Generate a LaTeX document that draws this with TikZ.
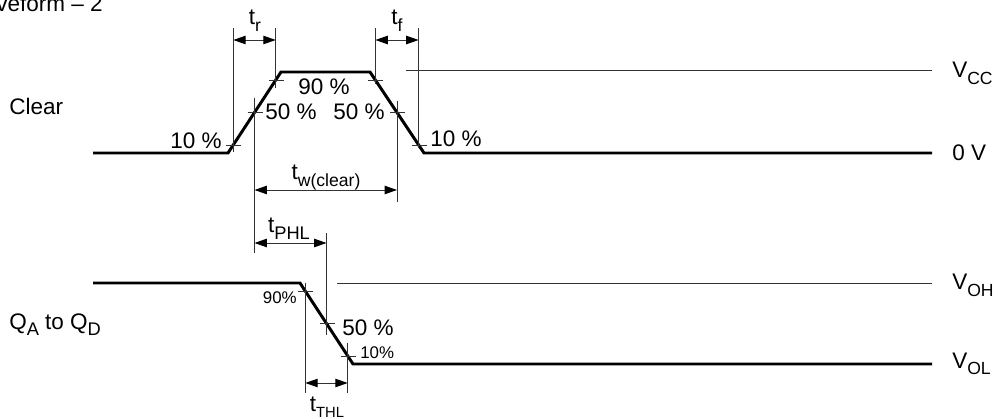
\documentclass[tikz,border=0pt]{standalone}
\usepackage{fontspec}
\setmainfont{Liberation Sans}
\usetikzlibrary{arrows.meta}
\newcommand\mysub[2][11]{\raisebox{-0.28em}{\fontsize{#1}{#1}\selectfont #2}}
\begin{document}
\begin{tikzpicture}[x=0.025cm,y=-0.025cm,
  wave/.style={line width=2.1pt, line join=miter},
  fine/.style={line width=0.7pt, black!80},
  dim/.style={line width=0.7pt, black!80,
    {Triangle[length=8.8pt,width=6pt,fill=black,color=black]}-{Triangle[length=8.8pt,width=6pt,fill=black,color=black]}},
  big/.style={inner sep=0pt, font=\fontsize{16}{18}\selectfont},
  mid/.style={inner sep=0pt, font=\fontsize{16}{18}\selectfont},
  small/.style={inner sep=0pt, font=\fontsize{12}{14}\selectfont}]
\useasboundingbox (0,0) rectangle (1000,419);
% ---------- coordinates: Clear waveform
\coordinate (c0) at (93,153);
\coordinate (c1) at (228,153);
\coordinate (c2) at (281,72);
\coordinate (c3) at (370,72);
\coordinate (c4) at (424,153);
\coordinate (c5) at (932,153);
\coordinate (r10) at (233.3,145);
\coordinate (r50) at (254.5,112.5);
\coordinate (r90) at (275.7,80);
\coordinate (f90) at (375.4,80);
\coordinate (f50) at (397,112.5);
\coordinate (f10) at (418.6,145);
% ---------- coordinates: output waveform
\coordinate (q0) at (93,283);
\coordinate (q1) at (300,283);
\coordinate (q2) at (353,364);
\coordinate (q3) at (932,364);
\coordinate (o90) at (305.3,291);
\coordinate (o50) at (326.5,323.5);
\coordinate (o10) at (347.7,356);
% ---------- reference levels
\coordinate (vcc0) at (406,70);
\coordinate (vcc1) at (932,70);
\coordinate (voh0) at (337,283);
\coordinate (voh1) at (932,283);
% ---------- waveforms
\draw[wave] (c0) -- (c1) -- (c2) -- (c3) -- (c4) -- (c5);
\draw[wave] (q0) -- (q1) -- (q2) -- (q3);
\draw[fine] (vcc0) -- (vcc1);
\draw[fine] (voh0) -- (voh1);
% ---------- tick marks
\foreach \p in {r10,r50,r90,f90,f50,f10,o90,o50,o10}
  \draw[fine] ([xshift=-7*0.025cm]\p) -- ([xshift=8*0.025cm]\p);
% ---------- extension lines (upper)
\coordinate (e1a) at (233.3,28);  \coordinate (e1b) at (233.3,152);
\coordinate (e2a) at (275.7,28);  \coordinate (e2b) at (275.7,88);
\coordinate (e3a) at (254.5,98);  \coordinate (e3b) at (254.5,253);
\coordinate (e4a) at (375.4,28);  \coordinate (e4b) at (375.4,84);
\coordinate (e5a) at (397,101);   \coordinate (e5b) at (397,202);
\coordinate (e6a) at (418.6,28);  \coordinate (e6b) at (418.6,148);
% ---------- extension lines (lower)
\coordinate (e7a) at (305.3,283); \coordinate (e7b) at (305.3,393);
\coordinate (e8a) at (326.5,233); \coordinate (e8b) at (326.5,335);
\coordinate (e9a) at (347.7,343); \coordinate (e9b) at (347.7,393);
\foreach \i in {1,...,9} \draw[fine] (e\i a) -- (e\i b);
% ---------- dimension arrows
\coordinate (tr0) at (233.3,40);  \coordinate (tr1) at (275.7,40);
\coordinate (tf0) at (375.4,40);  \coordinate (tf1) at (418.6,40);
\coordinate (tw0) at (254.5,190); \coordinate (tw1) at (397,190);
\coordinate (tp0) at (254.5,243); \coordinate (tp1) at (326.5,243);
\coordinate (tt0) at (305.3,383); \coordinate (tt1) at (347.7,383);
\draw[dim] (tr0) -- (tr1);
\draw[dim] (tf0) -- (tf1);
\draw[dim] (tw0) -- (tw1);
\draw[dim] (tp0) -- (tp1);
\draw[dim] (tt0) -- (tt1);
% ---------- labels
\node[big, anchor=base] (ltr) at (255,25) {t\mysub[12.5]{r}};
\node[big, anchor=base] (ltf) at (397,25) {t\mysub[12.5]{f}};
\node[big, anchor=base] (ltw) at (326,180) {t\mysub[12.5]{w(clear)}};
\node[big, anchor=base] (ltp) at (289,233) {t\mysub[13]{PHL}};
\node[big, anchor=base] (ltt) at (327,411) {t\mysub[10.5]{THL}};
\node[big, anchor=base east] (p10a) at (222,149) {10 \%};
\node[big, anchor=base west] (p50a) at (265,120) {50 \%};
\node[big, anchor=base] (p90a) at (324,95) {90 \%};
\node[big, anchor=base east] (p50b) at (385,120) {50 \%};
\node[big, anchor=base west] (p10b) at (430,147) {10 \%};
\node[small, anchor=base east] (p90c) at (297,304) {90\%};
\node[big, anchor=base west] (p50c) at (342,336) {50 \%};
\node[small, anchor=base west] (p10c) at (360,358) {10\%};
\node[mid, anchor=base west] (lclr) at (9,115) {Clear};
\node[mid, anchor=base west] (lq) at (9,329) {Q\mysub[13]{A} to Q\mysub[13]{D}};
\node[mid, anchor=base west] (lvcc) at (952,78) {V\mysub[12.5]{CC}};
\node[mid, anchor=base west] (l0v) at (952,161) {0 V};
\node[mid, anchor=base west] (lvoh) at (952,290) {V\mysub[12.5]{OH}};
\node[mid, anchor=base west] (lvol) at (952,368) {V\mysub[12.5]{OL}};
\node[mid, anchor=base east] (title) at (103,12) {veform – 2};
\end{tikzpicture}
\end{document}
